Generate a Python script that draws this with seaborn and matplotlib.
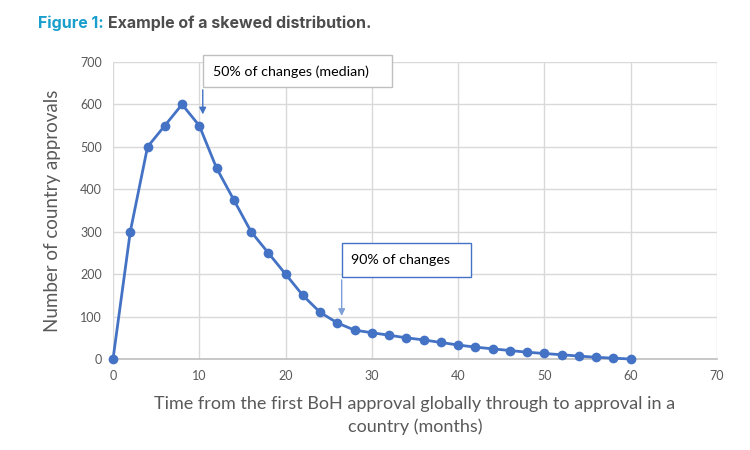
import numpy as np
import pandas as pd
import matplotlib
matplotlib.use("Agg")
import matplotlib.pyplot as plt
import seaborn as sns
from matplotlib.patches import Rectangle

# data
months = [0, 2, 4, 6, 8, 10, 12, 14, 16, 18, 20, 22, 24, 26, 28, 30,
          32, 34, 36, 38, 40, 42, 44, 46, 48, 50, 52, 54, 56, 58, 60]
approvals = [0, 300, 500, 550, 600, 550, 450, 375, 300, 250, 200, 150, 110, 85, 68, 62,
             56, 50, 45, 39, 33, 28, 24, 20, 16, 13, 10, 7, 4, 2, 0]
x_ticks = [0, 10, 20, 30, 40, 50, 60, 70]
y_ticks = [0, 100, 200, 300, 400, 500, 600, 700]

df = pd.DataFrame({"month": months, "approvals": approvals})

sns.set_style("white")
plt.rcParams["font.family"] = ["Lato", "DejaVu Sans"]

blue = "#4472C4"
grey_txt = "#595959"

fig = plt.figure(figsize=(7.5, 4.5), dpi=100)
ax = fig.add_axes([0.1507, 0.2022, 0.8053, 0.66])

sns.lineplot(data=df, x="month", y="approvals", ax=ax, color=blue,
             linewidth=2, marker="o", markersize=7, markeredgewidth=0,
             zorder=3, clip_on=False)

ax.set_xlim(0, 70)
ax.set_ylim(0, 700)
ax.set_xticks(x_ticks)
ax.set_yticks(y_ticks)
ax.grid(True, color="#d9d9d9", linewidth=1)
ax.tick_params(length=0, labelsize=9, colors=grey_txt, pad=8)
for s in ["top", "right", "left"]:
    ax.spines[s].set_visible(False)
ax.spines["bottom"].set_color("#bfbfbf")
ax.spines["bottom"].set_linewidth(1.2)

ax.set_xlabel("Time from the first BoH approval globally through to approval in a\ncountry (months)",
              fontsize=13, color=grey_txt, labelpad=10, linespacing=1.45)
ax.set_ylabel("Number of country approvals", fontsize=13.5, color=grey_txt, labelpad=14)

# annotation boxes with arrows
ax.add_patch(Rectangle((10.4, 641), 21.9, 75, facecolor="white",
                       edgecolor="#bfbfbf", linewidth=1, clip_on=False, zorder=4))
ax.text(11.6, 678, "50% of changes (median)", fontsize=10.3, color="black",
        va="center", ha="left", zorder=5, clip_on=False)
ax.annotate("", xy=(10.4, 570), xytext=(10.4, 641),
            arrowprops=dict(arrowstyle="-|>", color=blue, lw=1, mutation_scale=10), zorder=4)

ax.add_patch(Rectangle((26.5, 193), 15.0, 80, facecolor="white",
                       edgecolor=blue, linewidth=1, clip_on=False, zorder=4))
ax.text(27.6, 234, "90% of changes", fontsize=10.3, color="black",
        va="center", ha="left", zorder=5)
ax.annotate("", xy=(26.5, 95), xytext=(26.5, 193),
            arrowprops=dict(arrowstyle="-|>", color="#7f9fd8", lw=1, mutation_scale=10), zorder=4)

# two-colour title
t1 = fig.text(0.05, 0.948, "Figure 1:", fontsize=11.5, fontweight="bold",
              color="#1A9FCC", va="center", ha="left", family=["Inter", "DejaVu Sans"])
fig.canvas.draw()
bb = t1.get_window_extent().transformed(fig.transFigure.inverted())
fig.text(bb.x1 + 0.007, 0.948, "Example of a skewed distribution.", fontsize=11.5,
         fontweight="bold", color="#4D4D4D", va="center", ha="left",
         family=["Inter", "DejaVu Sans"])

fig.savefig("out.png", dpi=100)
